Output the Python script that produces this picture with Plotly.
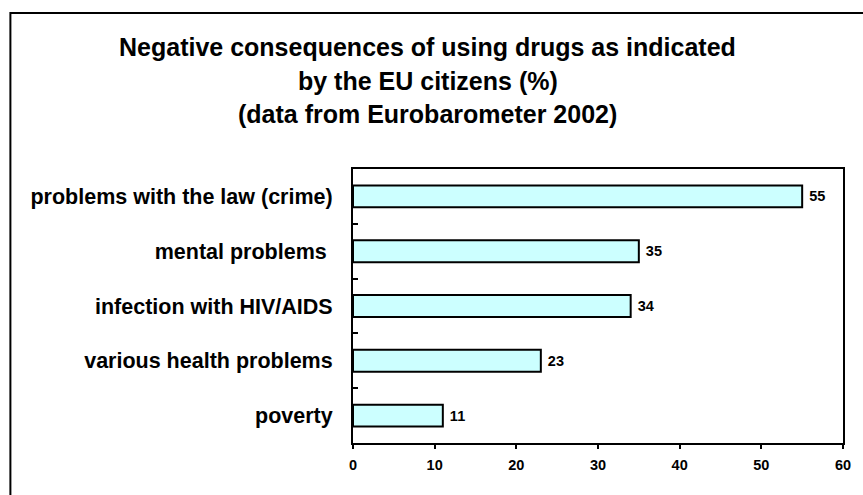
import plotly.graph_objects as go

# Survey results, top to bottom as listed
categories = [
    "problems with the law (crime)",
    "mental problems\u00a0",
    "infection with HIV/AIDS",
    "various health problems",
    "poverty",
]
values = [55, 35, 34, 23, 11]
x_ticks = [0, 10, 20, 30, 40, 50, 60]

title_lines = [
    "Negative consequences of using drugs as indicated",
    "by the EU citizens (%)",
    "(data from Eurobarometer 2002)",
]

W, H = 863, 495
L, R, T, B = 353, 18, 169, 52
pw, ph = W - L - R, H - T - B
FONT = "Liberation Sans, Arial"

fig = go.Figure(
    go.Bar(
        x=values,
        y=categories,
        orientation="h",
        marker=dict(color="#CCFFFF", line=dict(color="black", width=2)),
        text=[f"\u00a0<b>{v}</b>" for v in values],
        textposition="outside",
        textfont=dict(family=FONT, size=14.5, color="black"),
        cliponaxis=False,
    )
)

fig.update_layout(
    width=W,
    height=H,
    margin=dict(l=L, r=R, t=T, b=B),
    paper_bgcolor="white",
    plot_bgcolor="white",
    font=dict(family=FONT, color="black"),
    bargap=0.6,
    showlegend=False,
)

fig.update_xaxes(
    range=[0, 60],
    tickvals=x_ticks,
    ticktext=[f"<b>{t}</b>" for t in x_ticks],
    tickfont=dict(size=14.5),
    ticks="outside",
    ticklen=4,
    tickwidth=2,
    tickcolor="black",
    ticklabelstandoff=4,
    showgrid=False,
    zeroline=False,
    showline=True,
    linecolor="black",
    linewidth=2,
    mirror=True,
)

fig.update_yaxes(
    categoryorder="array",
    categoryarray=categories[::-1],
    tickvals=categories,
    ticktext=[f"<b>{c}</b>" for c in categories],
    tickfont=dict(size=21.5),
    ticks="inside",
    tickson="boundaries",
    ticklen=5,
    tickwidth=2,
    tickcolor="black",
    ticklabelstandoff=14,
    showgrid=False,
    showline=True,
    linecolor="black",
    linewidth=2,
    mirror=True,
)

# Frame around the whole chart
fig.add_shape(
    type="rect",
    xref="paper",
    yref="paper",
    x0=(9 - L) / pw,
    x1=(875 - L) / pw,
    y0=(H - B - 505) / ph,
    y1=(H - B - 13) / ph,
    line=dict(color="black", width=2),
    fillcolor="rgba(0,0,0,0)",
    layer="below",
)

# Bold title, one annotation per line
for i, line in enumerate(title_lines):
    fig.add_annotation(
        text=f"<b>{line}</b>",
        xref="paper",
        yref="paper",
        x=(428 - L) / pw,
        y=(H - B - (47 + 33.5 * i)) / ph,
        xanchor="center",
        yanchor="middle",
        showarrow=False,
        font=dict(size=25, family=FONT, color="black"),
    )

fig.write_html("out.html")
